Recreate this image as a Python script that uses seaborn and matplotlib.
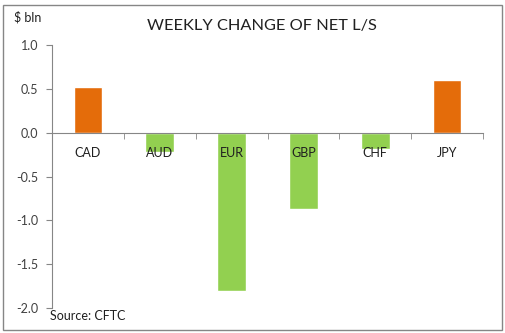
import matplotlib
matplotlib.use("Agg")
import matplotlib.pyplot as plt
import seaborn as sns
import pandas as pd
from matplotlib.patches import Rectangle

categories = ["CAD", "AUD", "EUR", "GBP", "CHF", "JPY"]
values = [0.52, -0.22, -1.81, -0.875, -0.19, 0.60]
colors = ["#E46C0A" if v > 0 else "#92D050" for v in values]
yticks = [1.0, 0.5, 0.0, -0.5, -1.0, -1.5, -2.0]

sns.set_style("white")
plt.rcParams['font.family'] = ['Lato', 'DejaVu Sans']

df = pd.DataFrame({"cat": categories, "val": values})

fig = plt.figure(figsize=(5.05, 3.33), dpi=100)
ax = fig.add_axes([52/505, 1-308/333, (483-52)/505, (308-45)/333])
sns.barplot(data=df, x="cat", y="val", hue="cat", palette=colors, legend=False,
            width=0.4, ax=ax, saturation=1)
ax.set_axisbelow(False)

ax.set_ylim(-2.0, 1.0)
ax.set_xlim(-0.5, 5.5)
ax.set_yticks(yticks)
ax.set_yticklabels([f"{t:.1f}" for t in yticks], fontsize=9, color="#404040")
ax.set_xlabel("")
ax.set_ylabel("")
for s in ["top", "right"]:
    ax.spines[s].set_visible(False)
ax.spines["bottom"].set_position(("data", 0))
ax.spines["left"].set_color("#868686")
ax.spines["bottom"].set_color("#868686")
ax.tick_params(axis="y", direction="out", length=4, color="#868686", pad=6, left=True)
ax.tick_params(axis="x", which="major", length=0, pad=10, labelsize=9, labelcolor="#202020")
ax.set_xticks(range(len(categories)))
ax.set_xticklabels(categories)
ax.set_xticks([i + 0.5 for i in range(-1, 6)], minor=True)
ax.tick_params(axis="x", which="minor", direction="out", length=4, color="#868686", bottom=True)

fig.text(262/505, 1-26/333, "WEEKLY CHANGE OF NET L/S", ha="center", va="center",
         fontsize=11.8, color="#202020")
fig.text(14/505, 1-17/333, "$ bln", ha="left", va="center", fontsize=9, color="#202020")
fig.text(50/505, 1-316/333, "Source: CFTC", ha="left", va="center", fontsize=9, color="#202020")

fig.patches.append(Rectangle((3/505, 3/333), 499/505, 325/333, transform=fig.transFigure,
                             fill=False, edgecolor="#868686", linewidth=1))

fig.savefig("out.png", dpi=100)
